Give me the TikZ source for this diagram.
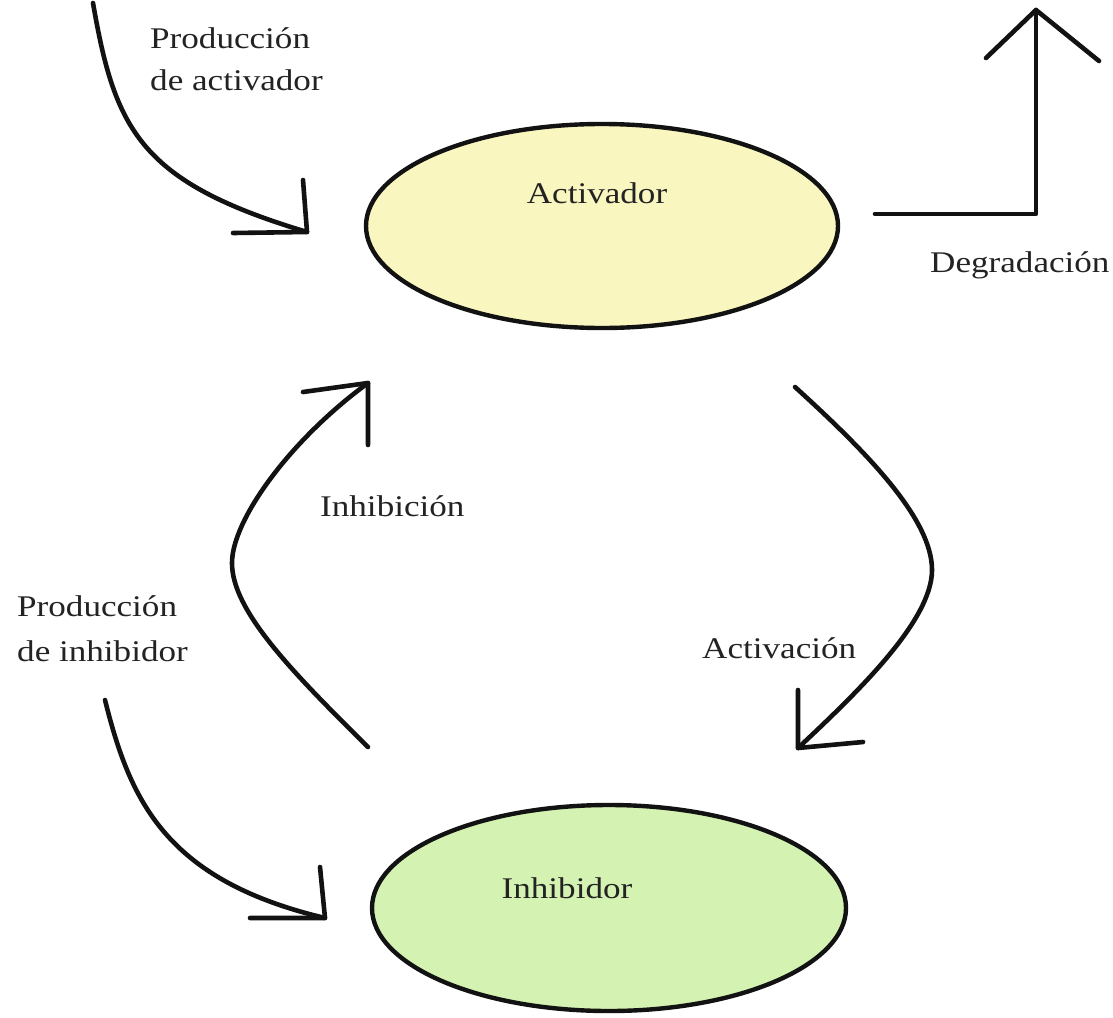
\documentclass[tikz,border=0pt]{standalone}
\usepackage{fontspec}
\setmainfont{Liberation Serif}[FakeStretch=1.17]
\usetikzlibrary{shapes.geometric}
\definecolor{actfill}{RGB}{250,246,192}
\definecolor{inhfill}{RGB}{212,243,178}
\definecolor{ink}{RGB}{18,18,18}
\definecolor{txt}{RGB}{35,35,35}
\begin{document}
\begin{tikzpicture}[x=1pt,y=-1pt,
  lbl/.style={inner sep=0pt, text=txt, font=\fontsize{30}{42}\selectfont},
  conn/.style={draw=ink, line width=4.6pt, line cap=round, line join=round},
  species/.style={ellipse, draw=ink, line width=4.4pt, inner sep=0pt}
]
\useasboundingbox[fill=white] (0,0) rectangle (1113,1017);

% species
\node[species, fill=actfill, minimum width=472pt, minimum height=204pt,
      label={[lbl, xshift=-5pt, yshift=33pt]center:Activador}] (act) at (602,226) {};
\node[species, fill=inhfill, minimum width=474pt, minimum height=206pt,
      label={[lbl, xshift=-42pt, yshift=20pt]center:Inhibidor}] (inh) at (609,908) {};

% production of activator
\coordinate (s1) at (93,3);
\coordinate (t1) at (307,232);
\draw[conn] (s1) .. controls (115,130) and (140,182) .. (t1);
\draw[conn] (t1) ++(-4,-52) -- (t1) -- ++(-74,1);

% degradation
\coordinate (s5) at (875,214);
\coordinate (c5) at (1036,214);
\coordinate (t5) at (1036,10);
\draw[conn] (s5) -- (c5) -- (t5);
\draw[conn] (t5) ++(-50,48) -- (t5) -- ++(63,51);

% inhibition
\coordinate (s2) at (368,747);
\coordinate (m2) at (232,563);
\coordinate (t2) at (368,383);
\draw[conn] (s2) .. controls (290,670) and (232,610) .. (m2)
                 .. controls (232,520) and (290,440) .. (t2);
\draw[conn] (t2) ++(-65,9) -- (t2) -- ++(0,62);

% activation
\coordinate (s3) at (795,387);
\coordinate (m3) at (932,570);
\coordinate (t3) at (798,748);
\draw[conn] (s3) .. controls (870,455) and (932,520) .. (m3)
                 .. controls (932,620) and (860,690) .. (t3);
\draw[conn] (t3) ++(0,-58) -- (t3) -- ++(65,-6);

% production of inhibitor
\coordinate (s4) at (105,700);
\coordinate (t4) at (325,918);
\draw[conn] (s4) .. controls (130,800) and (165,880) .. (t4);
\draw[conn] (t4) ++(-5,-51) -- (t4) -- ++(-75,0);

% labels
\node[lbl, anchor=west, align=left] (lpa) at (150,59) {Producción\\de activador};
\node[lbl, anchor=base west] (ldeg) at (930,272) {Degradación};
\node[lbl, anchor=base west] (linh) at (320,516) {Inhibición};
\node[lbl, anchor=west, align=left, font=\fontsize{30}{45}\selectfont] (lpi) at (17,629) {Producción\\de inhibidor};
\node[lbl, anchor=base west] (lact) at (702,658) {Activación};
\end{tikzpicture}
\end{document}
